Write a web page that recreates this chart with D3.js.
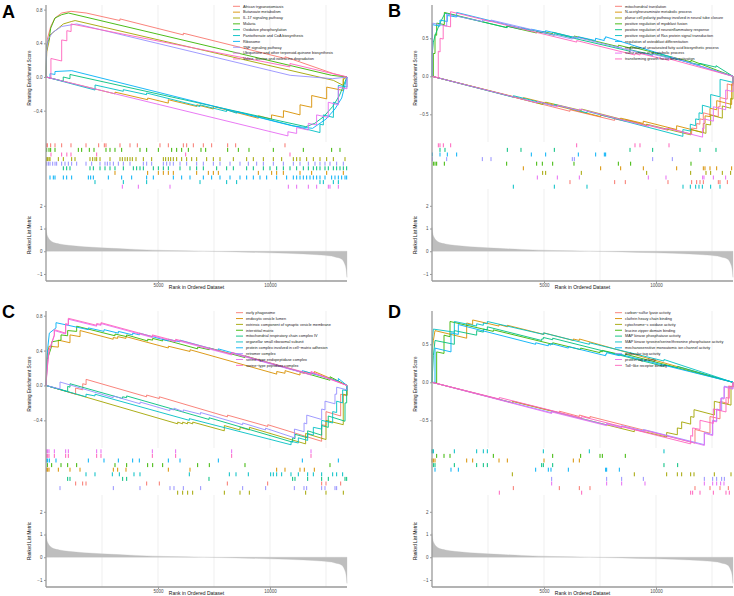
<!DOCTYPE html>
<html><head><meta charset="utf-8">
<script src="https://cdn.jsdelivr.net/npm/d3@7"></script>
<style>body{margin:0;background:#fff}svg{display:block;font-family:"Liberation Sans",Arial,sans-serif}</style>
</head><body><svg id="c" width="734" height="596"></svg>
<script>
const N = 13437;
const palette = ["#F8766D","#D89000","#A3A500","#39B600","#00BF7D","#00BFC4","#00B0F6","#9590FF","#E76BF3","#FF62BC"];
const rankPos = [0,30,100,200,350,600,1000,1700,2500,4000,5500,7000,8500,10000,11500,12300,12900,13200,13330,13400,13437];
const rankMetric = [1.05,0.8,0.6,0.47,0.38,0.32,0.26,0.2,0.15,0.08,0.03,0.0,-0.03,-0.07,-0.12,-0.17,-0.25,-0.35,-0.55,-0.8,-1.15];
const rankTicks = [2,1,0,-1];
const xTicks = [5000,10000];
const xGrid = [2500,5000,7500,10000,12500];

// ---------- Panel A ----------
const namesA = ["African trypanosomiasis","Butanoate metabolism","IL-17 signaling pathway","Malaria","Oxidative phosphorylation","Pantothenate and CoA biosynthesis","Ribosome","TNF signaling pathway","Ubiquinone and other terpenoid-quinone biosynthesis","Valine, leucine and isoleucine degradation"];
const ticksA = [0.8,0.4,0,-0.4];
const rowsA = [0,3,9,2,7,4,1,6,5,8];
const hitsA = [
 [30,60,208,402,699,1116,1786,2351,2604,2678,3303,3750,4077,5089,5461,6131,6280,6577,7023,7395,8110,8467,10669],
 [3080,4538,5015,5238,5461,5684,6726,7247,7470,7693,9479,10074,10297,10595,11339,11859,12529,13273],
 [30,74,134,179,551,774,1146,1295,1964,2083,2187,2262,2411,2857,3303,3408,3527,3631,3750,3854,4018,4345,4717,5238,5342,5461,5565,5684,5833,6056,6279,6503,6726,7172,7470,7767,8363,8958,9255,9702,10148,10520,11041,11190,11339,11636,11934,12231,12529,12827,13348],
 [30,134,208,402,1443,1592,1934,2143,2678,2857,3080,3378,4196,4494,5015,5610,5833,6056,6354,6919,7128,8110,8586,9062,10148,11487,12752,13124],
 [774,923,1071,1964,2113,2411,2634,2857,3080,3452,3899,4047,4196,4345,4791,5015,5238,5461,5982,6428,6726,7023,7619,8065,8363,8958,9255,9702,9999,10297,10595,10892,11190,11487,11711,11934,12083,12231,12455,12603,12827,12975,13124,13273,13422],
 [2187,3452,4494,6875,8065,8511,12231,12380,12827,13050],
 [179,327,402,774,923,1146,1890,1994,2113,2783,3378,3824,4494,4791,5684,6056,6428,7023,7395,7767,8214,8660,8958,9255,9553,9851,10297,10743,11041,11190,11339,11487,11636,11785,11934,12083,12231,12455,12752,12901,13050,13199,13348,13422],
 [30,104,179,298,402,476,699,848,997,1146,1369,1786,2039,2411,2634,2738,2857,3006,3229,3452,3750,4345,4494,4717,5238,5387,5535,5684,5982,6279,6726,7023,7470,7767,8214,8660,9032,9404,9702,10148,10595,11041,11339,11711,12008,12231,12455,12678,12975,13273],
 [3408,4122,5536,10818,11190,11711,12083,12604,12678,13050],
 [223,699,930,1116,2262,6235,10892]
];
const esA = [
 [[0,0],[30,0.3],[60,0.45],[210,0.6],[400,0.7],[700,0.76],[1120,0.78],[1790,0.76],[3300,0.67],[3300,0.69],[6130,0.5],[6130,0.52],[10670,0.22],[10670,0.24],[12830,0.04],[13437,0]],
 [[0,0],[3080,-0.2],[3080,-0.18],[4540,-0.27],[4540,-0.25],[5460,-0.31],[5460,-0.27],[6730,-0.35],[6730,-0.33],[7470,-0.38],[7470,-0.35],[9480,-0.49],[9480,-0.46],[10070,-0.5],[10070,-0.45],[10600,-0.48],[10600,-0.4],[11340,-0.45],[11340,-0.33],[11860,-0.36],[11860,-0.22],[12530,-0.26],[12530,-0.12],[13270,-0.16],[13270,0],[13437,0]],
 [[0,0],[30,0.3],[135,0.42],[180,0.5],[550,0.58],[775,0.63],[1150,0.66],[1300,0.67],[12830,-0.04],[13270,-0.1],[13270,-0.03],[13437,0]],
 [[0,0],[30,0.38],[135,0.45],[210,0.58],[400,0.7],[700,0.74],[1000,0.76],[12750,0.02],[13437,0]],
 [[0,0],[770,-0.05],[770,0.0],[1070,-0.02],[1070,0.03],[11600,-0.59],[12000,-0.55],[12400,-0.47],[12800,-0.35],[13100,-0.22],[13437,0]],
 [[0,0],[2190,-0.155],[2190,-0.095],[3450,-0.17],[3450,-0.15],[4490,-0.21],[4490,-0.19],[6870,-0.35],[6870,-0.33],[8060,-0.41],[8060,-0.39],[8510,-0.43],[8510,-0.41],[12230,-0.66],[12230,-0.56],[12380,-0.57],[12380,-0.45],[12830,-0.48],[12830,-0.3],[13050,-0.32],[13050,-0.1],[13437,-0.12],[13437,0]],
 [[0,0],[180,-0.01],[180,0.04],[400,0.03],[400,0.065],[1150,0.075],[11000,-0.58],[11900,-0.61],[12500,-0.5],[12900,-0.38],[13200,-0.25],[13437,0]],
 [[0,0],[15,0.3],[100,0.45],[300,0.53],[700,0.6],[1370,0.63],[10900,0.02],[12800,-0.02],[13437,0]],
 [[0,0],[10800,-0.70],[10800,-0.65],[11190,-0.67],[11190,-0.6],[11710,-0.63],[11710,-0.55],[12080,-0.57],[12080,-0.45],[12600,-0.48],[12600,-0.3],[13050,-0.33],[13050,-0.12],[13437,-0.14],[13437,0]],
 [[0,0],[220,-0.015],[220,0.22],[700,0.19],[700,0.44],[930,0.43],[930,0.55],[1120,0.54],[1120,0.63],[10890,0.12],[10890,0.16],[13437,0]]
];

// ---------- Panel B ----------
const namesB = ["mitochondrial translation","N-acetylneuraminate metabolic process","planar cell polarity pathway involved in neural tube closure","positive regulation of myoblast fusion","positive regulation of neuroinflammatory response","positive regulation of Ras protein signal transduction","regulation of osteoblast differentiation","regulation of unsaturated fatty acid biosynthetic process","sulfur amino acid catabolic process","transforming growth factor beta activation"];
const ticksB = [0.5,0,-0.5];
const rowsB = [9,4,6,7,3,1,2,8,0,5];
const hitsB = [
 [6160,8154,8630,10535,11592,11815,11964,12112,12782,12856,13184],
 [4077,7529,8422,9434,10922,12112,12187,12410,12708,13377],
 [4940,5074,6666,9583,11547,12231,12440,12960,13332],
 [60,134,208,551,3333,4672,4925,5387,6339,8318,8868,11562],
 [357,580,3363,3973,5461,8839,9851,11964,12678],
 [3631,5461,6919,11205,11532,11770,11919,12068,12440,12856],
 [15,357,684,1101,4434,5074,6532,7306,7693,7752],
 [15,655,2247,2634,6264,6354,9851,10728],
 [4702,5595,6577,9657,10446,12083,12142,12559,13109],
 [283,357,506,833,6458,9062,9285,10580]
];
const esB = [
 [[0,0],[6160,-0.46],[6160,-0.44],[8150,-0.58],[8150,-0.56],[8630,-0.59],[8630,-0.57],[10540,-0.71],[10540,-0.68],[11590,-0.76],[11590,-0.68],[11815,-0.69],[11815,-0.62],[11960,-0.63],[11960,-0.56],[12110,-0.57],[12110,-0.48],[12780,-0.53],[12780,-0.4],[12860,-0.4],[12860,-0.28],[13180,-0.3],[13180,-0.1],[13437,-0.12],[13437,0]],
 [[0,0],[4080,-0.3],[4080,-0.28],[7530,-0.53],[7530,-0.51],[8420,-0.57],[8420,-0.55],[9430,-0.62],[9430,-0.59],[10920,-0.7],[10920,-0.65],[12110,-0.74],[12110,-0.62],[12190,-0.62],[12190,-0.52],[12410,-0.53],[12410,-0.42],[12710,-0.44],[12710,-0.32],[13377,-0.37],[13377,-0.1],[13437,-0.1],[13437,0]],
 [[0,0],[4940,-0.37],[4940,-0.35],[5070,-0.36],[5070,-0.34],[6670,-0.45],[6670,-0.43],[9580,-0.65],[9580,-0.63],[11550,-0.77],[11550,-0.7],[12230,-0.75],[12230,-0.63],[12440,-0.64],[12440,-0.51],[12960,-0.55],[12960,-0.39],[13332,-0.42],[13332,-0.29],[13437,-0.3],[13437,0]],
 [[0,0],[60,0.0],[60,0.3],[134,0.3],[134,0.55],[208,0.54],[208,0.7],[551,0.68],[551,0.84],[3330,0.64],[3330,0.66],[4670,0.57],[4670,0.59],[4925,0.57],[4925,0.59],[5390,0.56],[5390,0.58],[6340,0.51],[6340,0.53],[8320,0.39],[8320,0.41],[8870,0.37],[8870,0.39],[11560,0.19],[11560,0.21],[13437,0]],
 [[0,0],[10,0.3],[60,0.45],[150,0.55],[357,0.7],[580,0.83],[3360,0.64],[3360,0.66],[3970,0.62],[3970,0.64],[5460,0.54],[5460,0.56],[8840,0.33],[8840,0.35],[9850,0.28],[9850,0.3],[11960,0.15],[11960,0.17],[12680,0.12],[12680,0.14],[13437,0]],
 [[0,0],[3630,-0.275],[3630,-0.255],[5460,-0.39],[5460,-0.37],[6920,-0.48],[6920,-0.46],[11200,-0.79],[11200,-0.7],[11530,-0.72],[11530,-0.63],[11770,-0.65],[11770,-0.56],[11920,-0.57],[11920,-0.48],[12070,-0.49],[12070,-0.38],[12440,-0.41],[12440,-0.24],[12860,-0.27],[12860,-0.04],[13437,-0.08],[13437,0]],
 [[0,0],[15,0.0],[15,0.68],[357,0.66],[357,0.74],[684,0.72],[684,0.8],[1100,0.78],[1100,0.84],[4430,0.6],[4430,0.62],[5070,0.58],[5070,0.6],[6530,0.5],[6530,0.52],[7300,0.47],[7300,0.5],[7690,0.47],[7690,0.5],[7750,0.5],[7750,0.52],[13437,0]],
 [[0,0],[15,0.0],[15,0.7],[655,0.66],[655,0.82],[2250,0.72],[2250,0.74],[2630,0.72],[2630,0.74],[6260,0.49],[6260,0.51],[6350,0.5],[6350,0.52],[9850,0.27],[9850,0.29],[10730,0.23],[10730,0.25],[13437,0]],
 [[0,0],[4700,-0.35],[4700,-0.33],[5600,-0.4],[5600,-0.38],[6580,-0.45],[6580,-0.43],[9660,-0.66],[9660,-0.64],[10450,-0.7],[10450,-0.68],[12080,-0.8],[12080,-0.68],[12140,-0.69],[12140,-0.56],[12560,-0.59],[12560,-0.4],[13110,-0.44],[13110,-0.18],[13437,-0.2],[13437,0]],
 [[0,0],[280,-0.02],[280,0.33],[360,0.32],[360,0.5],[500,0.49],[500,0.67],[830,0.65],[830,0.85],[6460,0.45],[6460,0.47],[9060,0.28],[9060,0.3],[9290,0.28],[9290,0.3],[10580,0.21],[10580,0.23],[13437,0]]
];

// ---------- Panel C ----------
const namesC = ["early phagosome","endocytic vesicle lumen","extrinsic component of synaptic vesicle membrane","interstitial matrix","mitochondrial respiratory chain complex IV","organellar small ribosomal subunit","protein complex involved in cell\u2212matrix adhesion","retromer complex","serine\u2212type endopeptidase complex","serine\u2212type peptidase complex"];
const ticksC = [0.8,0.4,0,-0.4];
const rowsC = [8,9,6,3,1,5,4,0,7,2];
const hitsC = [
 [1324,1637,1786,4494,5059,8095,9895,12306,12499,13154],
 [30,74,134,551,1071,1518,3006,3199,3571,5461,6428,10297,10669,11338,11532,11978],
 [5878,6101,6324,6547,7961,8660,9077,11592,12499,13273],
 [60,253,670,967,1369,3080,3601,4538,4762,5208,6770,7291,8883,12678],
 [967,1071,3422,3601,7276,11011,11115,11681,12306,12603,13348,13422],
 [1786,2187,2961,3274,3928,4196,6398,8184,8482,9032,10029,10148,10297,10520,10937,11264,11681,11934,12306,12797,12975,13243],
 [30,74,149,446,1890,2589,3229,3869,4166,5461,5982,7693,11443,13050],
 [625,3006,4196,5535,5714,6131,6904,8779,9806,11086,11517,11636,12306,12455,12901,12975],
 [30,74,134,372,878,997,2262,2455,4747,5788,8288,11830],
 [30,74,134,372,878,997,2262,2455,4747,5788,8288,11830]
];
const esC = [
 [[0,0],[1320,-0.1],[1320,-0.03],[1640,-0.05],[1640,0.02],[1790,0.01],[1790,0.07],[4490,-0.13],[4490,-0.11],[5060,-0.15],[5060,-0.13],[8100,-0.36],[8100,-0.34],[9900,-0.47],[9900,-0.45],[12306,-0.64],[12306,-0.45],[12500,-0.46],[12500,-0.3],[13154,-0.35],[13154,-0.1],[13437,-0.12],[13437,0]],
 [[0,0],[30,0.3],[74,0.38],[134,0.45],[551,0.44],[551,0.52],[1070,0.49],[1070,0.58],[1520,0.56],[1520,0.63],[3000,0.53],[3000,0.55],[3200,0.54],[3200,0.56],[3570,0.54],[3570,0.56],[5460,0.43],[5460,0.45],[6430,0.39],[6430,0.41],[10300,0.13],[10300,0.16],[10670,0.14],[10670,0.17],[11340,0.12],[11340,0.15],[11530,0.14],[11530,0.16],[11980,0.13],[11980,0.16],[13437,0]],
 [[0,0],[5880,-0.44],[5880,-0.42],[6100,-0.44],[6100,-0.42],[6320,-0.44],[6320,-0.42],[6550,-0.44],[6550,-0.42],[7960,-0.52],[7960,-0.46],[8660,-0.51],[8660,-0.48],[9080,-0.51],[9080,-0.48],[11590,-0.67],[11590,-0.55],[12500,-0.62],[12500,-0.4],[13270,-0.45],[13270,-0.1],[13437,-0.11],[13437,0]],
 [[0,0],[60,0.3],[253,0.45],[253,0.5],[670,0.52],[670,0.58],[967,0.57],[967,0.63],[1369,0.62],[1369,0.68],[3080,0.57],[3080,0.59],[3600,0.56],[3600,0.58],[4540,0.51],[4540,0.53],[4760,0.52],[4760,0.54],[5210,0.51],[5210,0.53],[6770,0.42],[6770,0.44],[7290,0.41],[7290,0.43],[8880,0.32],[8880,0.34],[12680,0.06],[12680,0.1],[13437,0]],
 [[0,0],[967,-0.07],[967,-0.01],[1071,-0.02],[1071,0.02],[3420,-0.15],[3420,-0.13],[3600,-0.14],[3600,-0.12],[7280,-0.39],[7280,-0.37],[11010,-0.65],[11010,-0.6],[11115,-0.61],[11115,-0.56],[11680,-0.6],[11680,-0.52],[12306,-0.57],[12306,-0.46],[12600,-0.48],[12600,-0.35],[13348,-0.41],[13348,-0.2],[13422,-0.2],[13422,0],[13437,0]],
 [[0,0],[1786,-0.13],[1786,-0.1],[2187,-0.12],[2187,-0.1],[6398,-0.4],[6398,-0.38],[10940,-0.68],[10940,-0.64],[11264,-0.66],[11264,-0.6],[11681,-0.63],[11681,-0.55],[11934,-0.57],[11934,-0.48],[12306,-0.5],[12306,-0.4],[12797,-0.43],[12797,-0.3],[12975,-0.31],[12975,-0.18],[13243,-0.2],[13243,-0.05],[13437,-0.06],[13437,0]],
 [[0,0],[30,0.25],[74,0.42],[149,0.6],[446,0.66],[446,0.72],[1890,0.64],[1890,0.66],[2590,0.62],[2590,0.64],[3230,0.6],[3230,0.62],[3870,0.58],[3870,0.6],[4170,0.58],[4170,0.6],[5460,0.51],[5460,0.53],[5980,0.5],[5980,0.52],[7690,0.4],[7690,0.42],[11440,0.15],[11440,0.17],[13050,0.05],[13050,0.08],[13437,0]],
 [[0,0],[625,-0.04],[625,0.04],[3000,-0.14],[3000,-0.12],[4200,-0.21],[4200,-0.19],[5530,-0.29],[5530,-0.27],[5710,-0.28],[5710,-0.26],[6130,-0.3],[6130,-0.28],[6900,-0.33],[6900,-0.31],[8780,-0.45],[8780,-0.43],[9800,-0.51],[9800,-0.49],[11090,-0.6],[11090,-0.5],[11520,-0.53],[11520,-0.43],[11640,-0.44],[11640,-0.34],[12306,-0.39],[12306,-0.27],[12455,-0.28],[12455,-0.18],[12900,-0.21],[12900,-0.1],[12975,-0.1],[12975,-0.02],[13437,-0.05],[13437,0]],
 [[0,0],[30,0.11],[74,0.24],[134,0.39],[372,0.57],[372,0.63],[878,0.59],[878,0.7],[997,0.69],[997,0.76],[2262,0.68],[2262,0.7],[2455,0.69],[2455,0.71],[4747,0.55],[4747,0.57],[5788,0.5],[5788,0.52],[8288,0.35],[8288,0.37],[11830,0.12],[11830,0.15],[13437,0]],
 [[0,0],[30,0.12],[74,0.25],[134,0.4],[372,0.58],[372,0.64],[878,0.6],[878,0.71],[997,0.7],[997,0.77],[2262,0.69],[2262,0.71],[2455,0.7],[2455,0.72],[4747,0.56],[4747,0.58],[5788,0.51],[5788,0.53],[8288,0.36],[8288,0.38],[11830,0.13],[11830,0.16],[13437,0]]
];

// ---------- Panel D ----------
const namesD = ["carbon\u2212sulfur lyase activity","clathrin heavy chain binding","cytochrome\u2212c oxidase activity","leucine zipper domain binding","MAP kinase phosphatase activity","MAP kinase tyrosine/serine/threonine phosphatase activity","mechanosensitive monoatomic ion channel activity","molecular tag activity","protein tag activity","Toll\u2212like receptor binding"];
const ticksD = [0.5,0,-0.5];
const rowsD = [5,3,1,4,6,2,7,8,0,9];
const hitsD = [
 [3631,5684,6577,7053,11740,12410,12856,13228],
 [0,60,134,1548,1815,2991,3363,5000,6309,6577],
 [3586,9032,10476,10952,11145,11547,11696,12603,13348],
 [208,536,804,2738,5387,6636,7500,7604,8630],
 [60,134,997,1994,2292,2470,4896,4970,5387,10356,10967],
 [0,30,60,997,1994,2292,2470,4970,7023,10356],
 [134,848,1176,4628,5193,5312,6086,7752,7797,8363],
 [5342,7797,8467,9434,12157,12529,12708,12931,13050],
 [5342,7797,8467,9508,12157,12529,12708,12886,13035],
 [3006,6681,11547,11636,11964,12559,13124,13273]
];
const esD = [
 [[0,0],[3631,-0.27],[3631,-0.25],[5684,-0.4],[5684,-0.38],[6577,-0.45],[6577,-0.43],[7053,-0.47],[7053,-0.45],[11740,-0.8],[11740,-0.62],[12410,-0.67],[12410,-0.45],[12856,-0.48],[12856,-0.25],[13228,-0.28],[13228,-0.05],[13437,-0.06],[13437,0]],
 [[0,0],[0,0.4],[60,0.55],[134,0.68],[1548,0.58],[1548,0.78],[1815,0.76],[1815,0.82],[2991,0.74],[2991,0.76],[3363,0.73],[3363,0.75],[5000,0.63],[5000,0.65],[6309,0.55],[6309,0.57],[6577,0.55],[6577,0.57],[13437,0]],
 [[0,0],[3586,-0.27],[3586,-0.25],[9032,-0.65],[9032,-0.62],[10476,-0.72],[10476,-0.66],[10952,-0.69],[10952,-0.6],[11145,-0.61],[11145,-0.52],[11547,-0.55],[11547,-0.45],[11696,-0.46],[11696,-0.36],[12603,-0.43],[12603,-0.25],[13348,-0.3],[13348,-0.05],[13437,-0.06],[13437,0]],
 [[0,0],[208,-0.01],[208,0.4],[536,0.38],[536,0.62],[804,0.6],[804,0.8],[2738,0.67],[2738,0.69],[5387,0.5],[5387,0.52],[6636,0.43],[6636,0.45],[7500,0.39],[7500,0.41],[7604,0.4],[7604,0.42],[8630,0.35],[8630,0.37],[13437,0]],
 [[0,0],[60,0.35],[134,0.55],[997,0.5],[997,0.68],[1994,0.62],[1994,0.68],[2292,0.66],[2292,0.7],[2470,0.69],[2470,0.73],[4896,0.55],[4896,0.57],[4970,0.57],[4970,0.59],[5387,0.56],[5387,0.58],[10356,0.21],[10356,0.23],[10967,0.19],[10967,0.21],[13437,0]],
 [[0,0],[0,0.45],[30,0.6],[60,0.7],[997,0.66],[997,0.8],[1994,0.74],[1994,0.77],[2292,0.75],[2292,0.78],[2470,0.77],[2470,0.8],[4970,0.63],[4970,0.65],[7023,0.5],[7023,0.52],[10356,0.28],[10356,0.3],[13437,0]],
 [[0,0],[134,0.0],[134,0.45],[848,0.4],[848,0.65],[1176,0.63],[1176,0.76],[4628,0.5],[4628,0.52],[5193,0.48],[5193,0.5],[5312,0.49],[5312,0.51],[6086,0.45],[6086,0.47],[7752,0.35],[7752,0.37],[7797,0.37],[7797,0.39],[8363,0.35],[8363,0.37],[13437,0]],
 [[0,0],[5342,-0.4],[5342,-0.38],[7797,-0.56],[7797,-0.54],[8467,-0.59],[8467,-0.57],[9434,-0.64],[9434,-0.62],[12157,-0.82],[12157,-0.66],[12529,-0.69],[12529,-0.5],[12708,-0.51],[12708,-0.35],[12931,-0.37],[12931,-0.2],[13050,-0.21],[13050,-0.05],[13437,-0.08],[13437,0]],
 [[0,0],[5342,-0.41],[5342,-0.39],[7797,-0.57],[7797,-0.55],[8467,-0.6],[8467,-0.58],[9508,-0.65],[9508,-0.63],[12157,-0.83],[12157,-0.67],[12529,-0.7],[12529,-0.51],[12708,-0.52],[12708,-0.36],[12886,-0.37],[12886,-0.21],[13035,-0.22],[13035,-0.06],[13437,-0.09],[13437,0]],
 [[0,0],[3006,-0.22],[3006,-0.2],[6681,-0.47],[6681,-0.45],[11547,-0.81],[11547,-0.7],[11636,-0.71],[11636,-0.6],[11964,-0.62],[11964,-0.5],[12559,-0.54],[12559,-0.35],[13124,-0.39],[13124,-0.2],[13273,-0.21],[13273,-0.05],[13437,-0.06],[13437,0]]
];

const panels = [
 {letter:"A", ox:0,   oy:0,   lx:2,   ly:18,  names:namesA, ticks:ticksA, dom:[-0.772,0.855], rows:rowsA, hits:hitsA, es:esA, legX:233, legY:6.3},
 {letter:"B", ox:386, oy:0,   lx:388, ly:17,  names:namesB, ticks:ticksB, dom:[-0.864,0.938], rows:rowsB, hits:hitsB, es:esB, legX:229, legY:6.3},
 {letter:"C", ox:0,   oy:306, lx:2,   ly:318, names:namesC, ticks:ticksC, dom:[-0.717,0.854], rows:rowsC, hits:hitsC, es:esC, legX:236, legY:6.7},
 {letter:"D", ox:386, oy:306, lx:388, ly:318, names:namesD, ticks:ticksD, dom:[-0.864,0.938], rows:rowsD, hits:hitsD, es:esD, legX:229, legY:6.7}
];

const svg = d3.select("#c");
const rankData = rankPos.map((r,i)=>[r,rankMetric[i]]);
const L=46, R=347, esTop=5, esBot=142, rugTop=143, rugBot=189, rkTop=189, rkBot=281;

panels.forEach(p=>{
  const g = svg.append("g").attr("transform",`translate(${p.ox},${p.oy})`);
  const x = d3.scaleLinear().domain([0,N]).range([L,R]);
  const y = d3.scaleLinear().domain(p.dom).range([esBot,esTop]);
  const yr = d3.scaleLinear().domain([-1.31,2.74]).range([rkBot,rkTop]);

  // grid lines
  xGrid.forEach(v=>{
    g.append("line").attr("x1",x(v)).attr("x2",x(v)).attr("y1",esTop).attr("y2",esBot).attr("stroke","#ebebeb").attr("stroke-width",0.8);
    g.append("line").attr("x1",x(v)).attr("x2",x(v)).attr("y1",rkTop).attr("y2",rkBot).attr("stroke","#ebebeb").attr("stroke-width",0.8);
  });

  // ranked list
  g.append("path").datum(rankData)
    .attr("d", d3.area().x(d=>x(d[0])).y0(yr(0)).y1(d=>yr(d[1])).curve(d3.curveMonotoneX))
    .attr("fill","#bebebe").attr("stroke","#bebebe").attr("stroke-width",0.3);

  // running ES lines
  const line = d3.line().x(d=>x(d[0])).y(d=>y(d[1]));
  p.es.forEach((pts,i)=>{
    g.append("path").attr("d",line(pts)).attr("fill","none").attr("stroke",palette[i]).attr("stroke-width",0.9).attr("stroke-linejoin","miter");
  });

  // rug
  const rowH = (rugBot-rugTop)/10;
  p.rows.forEach((si,ri)=>{
    g.append("g").selectAll("line").data(p.hits[si]).join("line")
      .attr("x1",d=>x(d)).attr("x2",d=>x(d))
      .attr("y1",rugTop+ri*rowH+0.3).attr("y2",rugTop+(ri+1)*rowH-0.3)
      .attr("stroke",palette[si]).attr("stroke-width",1);
  });

  // axes
  const ax = g.append("g").attr("transform",`translate(${L},0)`).call(d3.axisLeft(y).tickValues(p.ticks).tickSize(2).tickPadding(1.5).tickFormat(d3.format(".1f")));
  const ar = g.append("g").attr("transform",`translate(${L},0)`).call(d3.axisLeft(yr).tickValues(rankTicks).tickSize(2).tickPadding(1.5).tickFormat(d3.format("d")));
  const ab = g.append("g").attr("transform",`translate(0,${rkBot})`).call(d3.axisBottom(x).tickValues(xTicks).tickSize(2).tickPadding(1).tickFormat(d3.format("d")));
  [ax,ar,ab].forEach(a=>{
    a.select(".domain").remove();
    a.selectAll(".tick line").attr("stroke","#555").attr("stroke-width",0.6);
    a.selectAll(".tick text").attr("font-size",4.5).attr("fill","#4d4d4d").attr("font-family","Liberation Sans, Arial, sans-serif");
  });
  g.append("line").attr("x1",L).attr("x2",L).attr("y1",esTop).attr("y2",rkBot).attr("stroke","#9a9a9a").attr("stroke-width",1.3);
  g.append("line").attr("x1",L).attr("x2",R).attr("y1",rkBot).attr("y2",rkBot).attr("stroke","#9a9a9a").attr("stroke-width",1.3);

  // axis titles
  g.append("text").attr("transform",`translate(31,78) rotate(-90)`).attr("text-anchor","middle").attr("font-size",4.6).attr("fill","#111").text("Running Enrichment Score");
  g.append("text").attr("transform",`translate(31,235) rotate(-90)`).attr("text-anchor","middle").attr("font-size",4.6).attr("fill","#111").text("Ranked List Metric");
  g.append("text").attr("x",(L+R)/2).attr("y",289.3).attr("text-anchor","middle").attr("font-size",5).attr("fill","#111").text("Rank in Ordered Dataset");

  // legend
  p.names.forEach((n,i)=>{
    const yy = p.legY + i*5.85;
    g.append("line").attr("x1",p.legX).attr("x2",p.legX+7).attr("y1",yy).attr("y2",yy).attr("stroke",palette[i]).attr("stroke-width",0.9);
    g.append("text").attr("x",p.legX+10).attr("y",yy+1.3).attr("font-size",3.8).attr("fill","#222").text(n);
  });

  // panel letter
  svg.append("text").attr("x",p.lx).attr("y",p.ly).attr("font-size",18).attr("font-weight","bold").attr("fill","#000").text(p.letter);
});
</script></body></html>
